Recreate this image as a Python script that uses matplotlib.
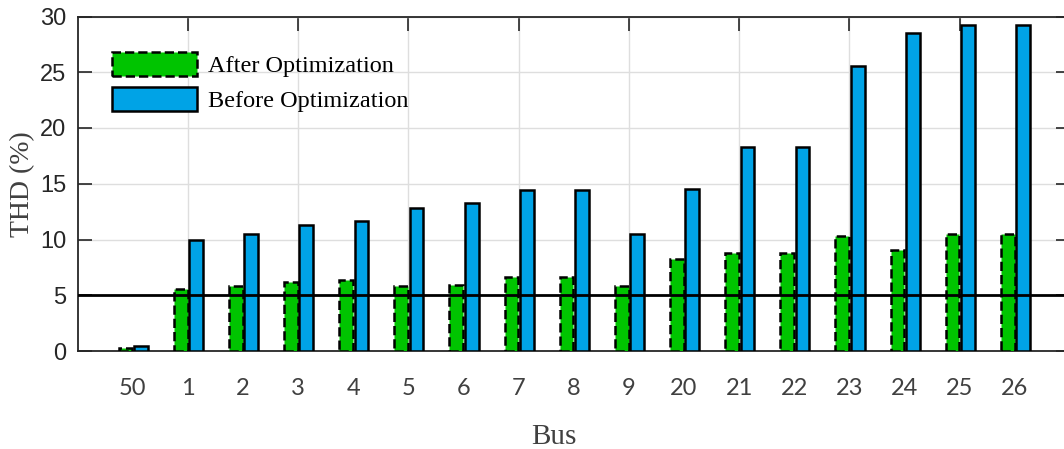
import matplotlib
matplotlib.use("Agg")
import matplotlib.pyplot as plt
import numpy as np

# THD per bus, before and after the filter optimisation
buses = ["50", "1", "2", "3", "4", "5", "6", "7", "8", "9",
         "20", "21", "22", "23", "24", "25", "26"]
thd_after = [0.25, 5.6, 5.8, 6.2, 6.4, 5.8, 5.9, 6.6, 6.6, 5.8,
             8.25, 8.8, 8.8, 10.3, 9.1, 10.5, 10.5]
thd_before = [0.45, 10.0, 10.5, 11.3, 11.7, 12.85, 13.3, 14.4, 14.4, 10.5,
              14.5, 18.3, 18.3, 25.6, 28.5, 29.2, 29.2]
thd_limit = 5.0

GREEN = "#00C400"
BLUE = "#00A3E6"
AXIS_GREY = "#262626"

W, H = 1064, 449
fig = plt.figure(figsize=(W / 100, H / 100), dpi=100)
ax = fig.add_axes([77.5 / W, 1 - 351 / H, (1070 - 77.5) / W, (351 - 16.5) / H])

pos = np.arange(1, len(buses) + 1)
bw = 0.25
ax.bar(pos - 0.13, thd_after, bw, color=GREEN, edgecolor="black",
       linestyle="--", linewidth=1.8, label="After Optimization", zorder=3)
ax.bar(pos + 0.15, thd_before, bw, color=BLUE, edgecolor="black",
       linewidth=1.8, label="Before Optimization", zorder=3)
ax.axhline(thd_limit, color="black", linewidth=2, zorder=4)

ax.set_xlim(0, 18)
ax.set_ylim(0, 30)
ax.set_yticks(np.arange(0, 31, 5))

# bus names on the major ticks, grid + inward tick marks on every 2nd slot
ax.xaxis.remove_overlapping_locs = False
ax.set_xticks(pos, labels=buses)
ax.set_xticks(np.arange(2, 17, 2), minor=True)

ax.grid(True, which="major", axis="y", color="#dedede", linewidth=1, zorder=0)
ax.grid(True, which="minor", axis="x", color="#dedede", linewidth=1, zorder=0)
ax.set_axisbelow(True)

ax.tick_params(axis="y", direction="in", length=10, width=1.2,
               color=AXIS_GREY, right=True,
               labelsize=17, labelcolor=AXIS_GREY, pad=8)
ax.tick_params(axis="x", which="major", length=0, pad=19.5, labelsize=17,
               labelcolor="#404040")
ax.tick_params(axis="x", which="minor", direction="in", length=10, width=1.2,
               color=AXIS_GREY, top=True, bottom=False)
for lbl in ax.get_yticklabels():
    lbl.set_fontfamily("Liberation Sans")
for lbl in ax.get_xticklabels():
    lbl.set_fontfamily("Lato")

for sp in ax.spines.values():
    sp.set_color(AXIS_GREY)
    sp.set_linewidth(1.3)

ax.set_ylabel("THD (%)", family="Liberation Serif", fontsize=20, color="#404040")
ax.yaxis.set_label_coords(-0.055, 0.5)
ax.yaxis.label.set_va("center")
ax.set_xlabel("Bus", family="Liberation Serif", fontsize=21, color="#404040")
ax.xaxis.set_label_coords(0.4795, -0.257)
ax.xaxis.label.set_va("center")

ax.legend(loc="upper left", bbox_to_anchor=(112 / W, 1 - 51.5 / H),
          bbox_transform=fig.transFigure, frameon=False,
          prop={"family": "Liberation Serif", "size": 17.5},
          handlelength=3.5, handleheight=1.15, handletextpad=0.45,
          labelspacing=0.4, borderpad=0, borderaxespad=0)

fig.savefig("out.png", dpi=100)
